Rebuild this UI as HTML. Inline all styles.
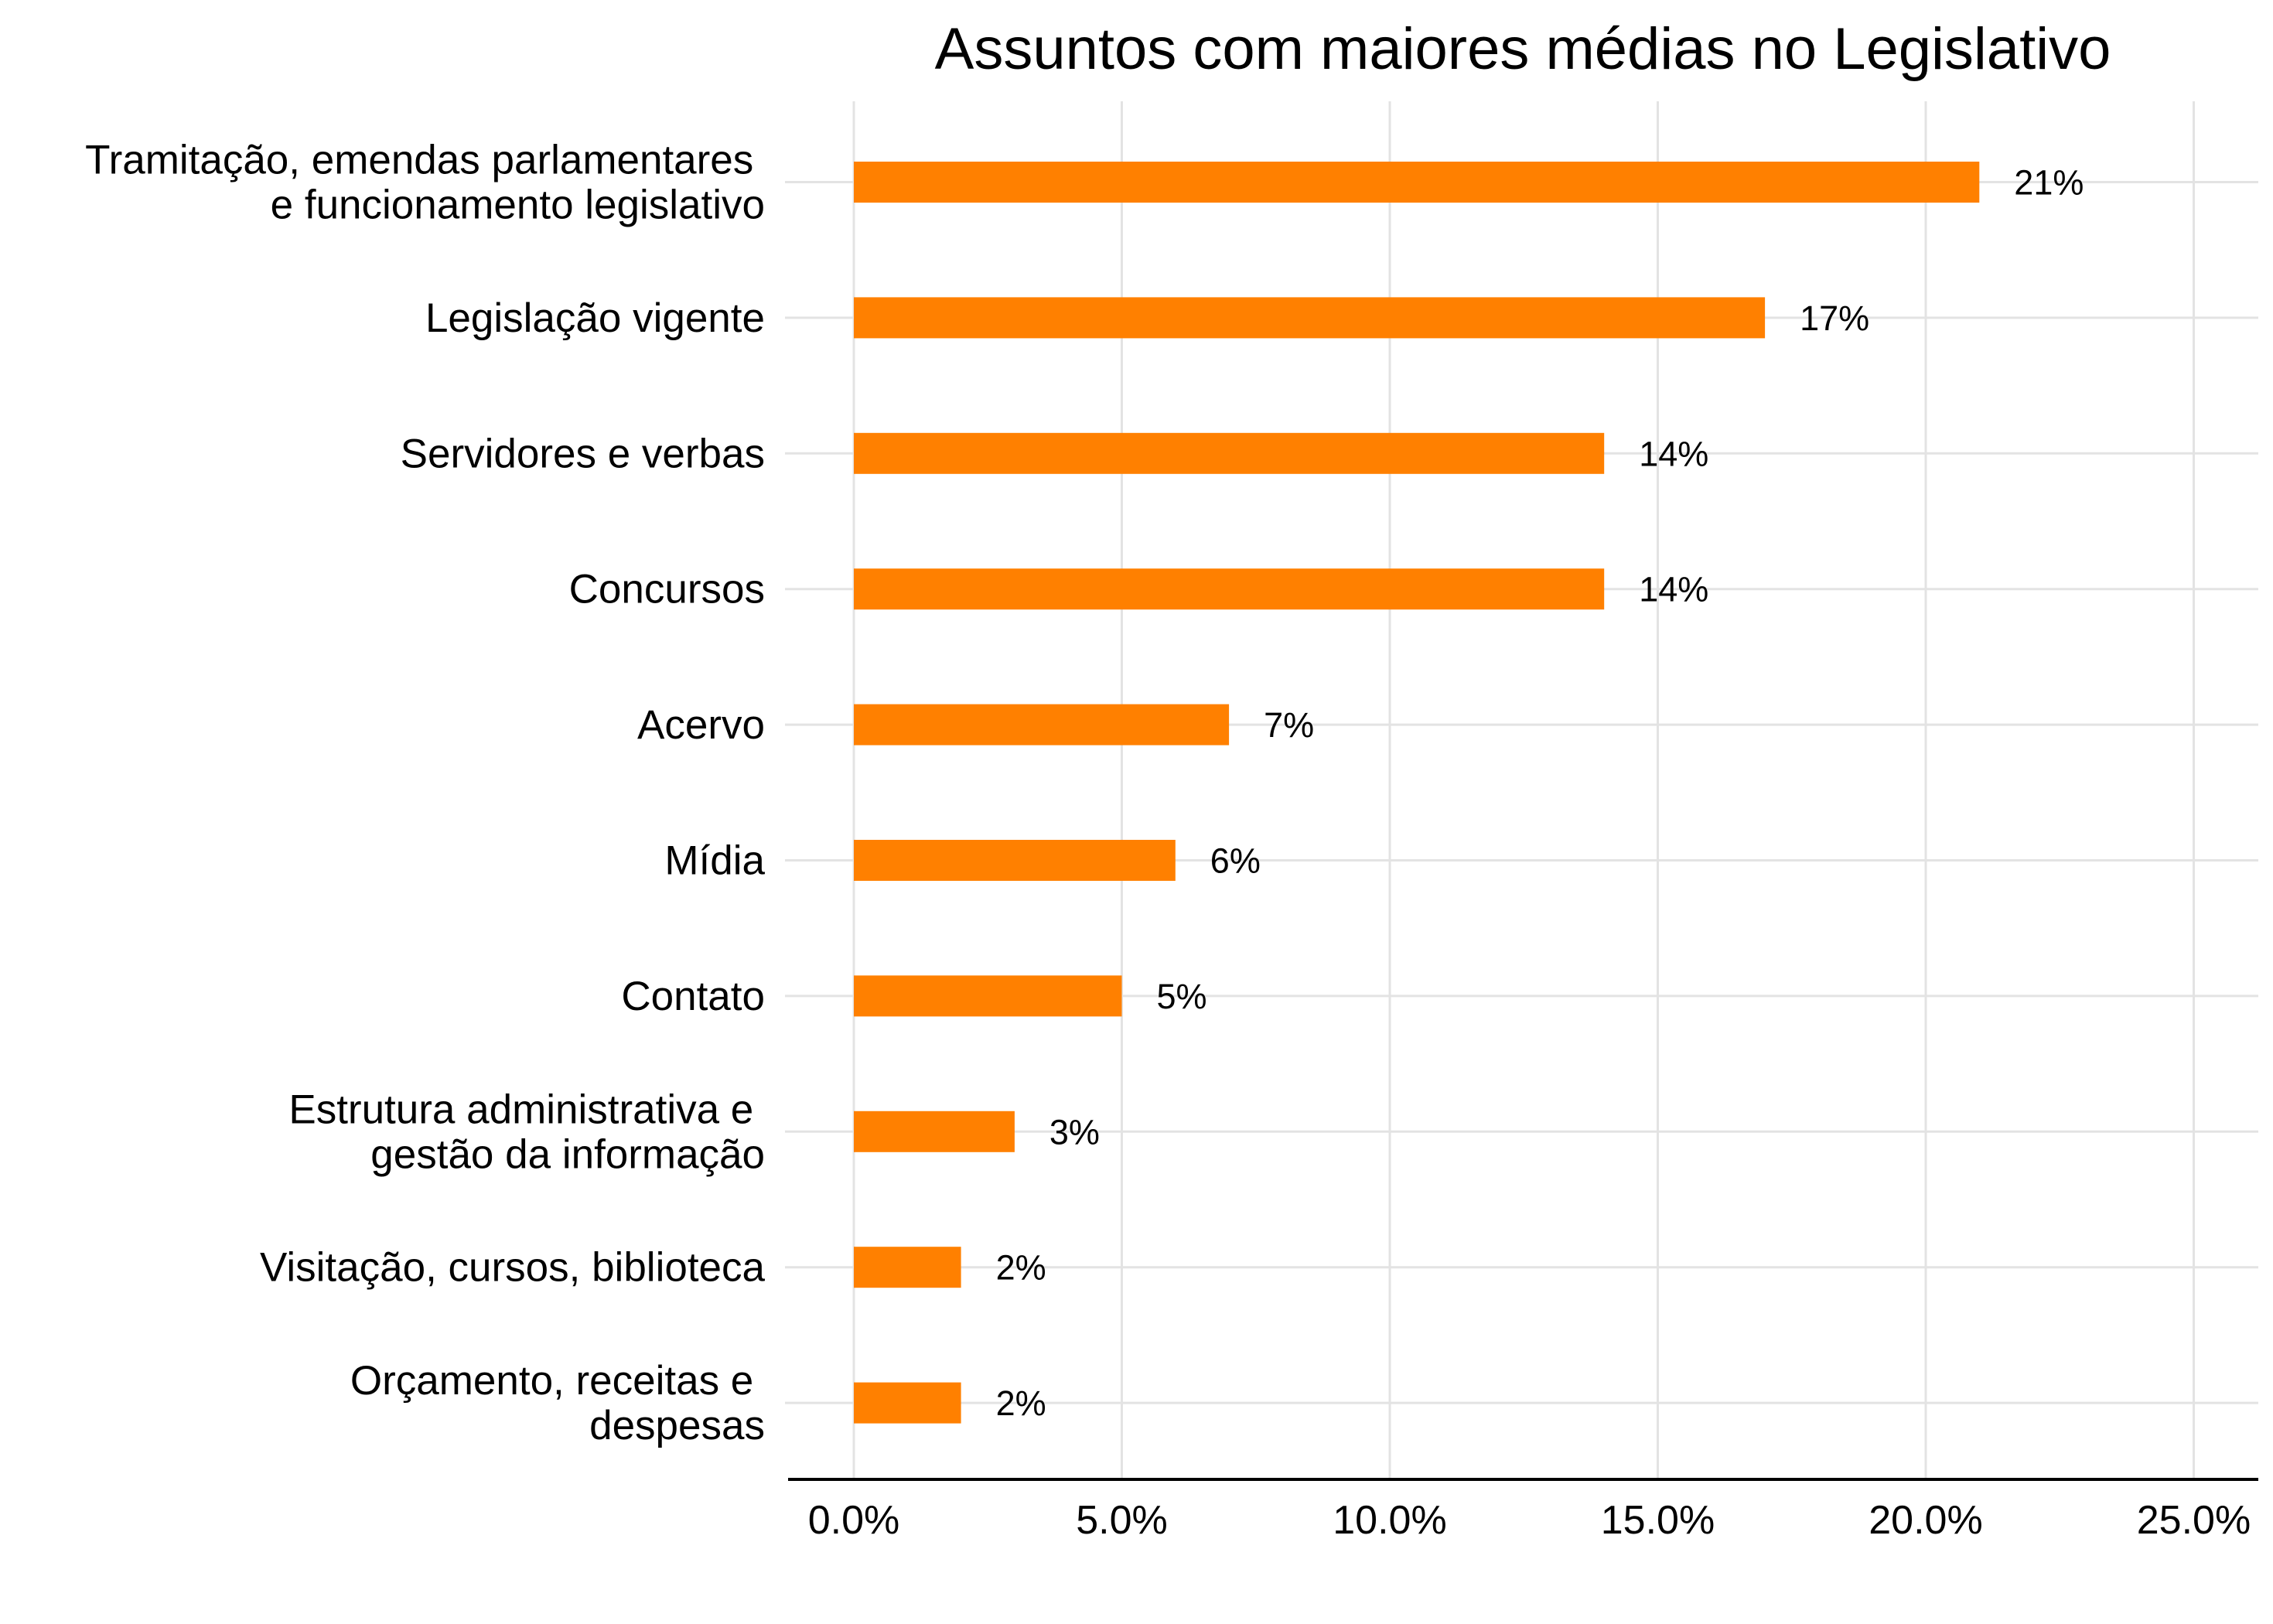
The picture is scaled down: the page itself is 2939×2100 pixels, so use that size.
<!DOCTYPE html>
<html><head><meta charset="utf-8"><style>
html,body{margin:0;padding:0;background:#fff;}
svg{display:block;font-family:"Liberation Sans",Arial,sans-serif;}
</style></head><body>
<svg id="chart" width="2939" height="2100" viewBox="0 0 2939 2100" xmlns="http://www.w3.org/2000/svg">
<text x="1969" y="89" font-size="76" text-anchor="middle" fill="#000">Assuntos com maiores médias no Legislativo</text>
<g id="grid"></g><g id="bars"></g><g id="labels"></g><g id="xticks"></g>
<line x1="1019" x2="2920" y1="1913" y2="1913" stroke="#000" stroke-width="4"/>
</svg>
<script>
const categories = [
 ["Tramitação, emendas parlamentares ","e funcionamento legislativo"],
 ["Legislação vigente"],
 ["Servidores e verbas"],
 ["Concursos"],
 ["Acervo"],
 ["Mídia"],
 ["Contato"],
 ["Estrutura administrativa e ","gestão da informação"],
 ["Visitação, cursos, biblioteca"],
 ["Orçamento, receitas e ","despesas"]
];
const values = [21, 17, 14, 14, 7, 6, 5, 3, 2, 2];
const valueLabels = ["21%","17%","14%","14%","7%","6%","5%","3%","2%","2%"];
const xTicks = [0,5,10,15,20,25];
const xTickLabels = ["0.0%","5.0%","10.0%","15.0%","20.0%","25.0%"];

const NS="http://www.w3.org/2000/svg";
const x = v => 1104 + v*69.3;
const y = i => 235.5 + i*175.4;
function mk(tag, attrs, parent, text){
  const el=document.createElementNS(NS,tag);
  for(const k in attrs) el.setAttribute(k,attrs[k]);
  if(text!==undefined) el.textContent=text;
  document.getElementById(parent).appendChild(el);
  return el;
}
xTicks.forEach((t,i)=>{
  const g=mk('line',{x1:x(t),x2:x(t),y1:131,y2:1913,stroke:'#e3e3e3','stroke-width':3},'grid');
  
  
  const tl=mk('text',{x:x(t),y:1983,'font-size':52,'text-anchor':'middle',fill:'#000'},'xticks',xTickLabels[i]);
  
  
});
categories.forEach((c,i)=>{
  const g=mk('line',{x1:1015,x2:2920,y1:y(i),y2:y(i),stroke:'#e3e3e3','stroke-width':3},'grid');
  
  
  const b=mk('rect',{x:x(0),y:y(i)-26.5,width:x(values[i])-x(0),height:53,fill:'#ff8000'},'bars');
  
  
  const v=mk('text',{x:x(values[i])+45,y:y(i)+16,'font-size':45,fill:'#000'},'labels',valueLabels[i]);
  
  
  const n=c.length;
  c.forEach((line,j)=>{
    const by=y(i)+18+(j-(n-1)/2)*58;
    const t=mk('text',{x:989,y:by,'font-size':53,'text-anchor':'end',fill:'#000','xml:space':'preserve'},'labels',line);
    t.setAttribute('style','white-space:pre');
    
    
  });
});
</script>
</body></html>
